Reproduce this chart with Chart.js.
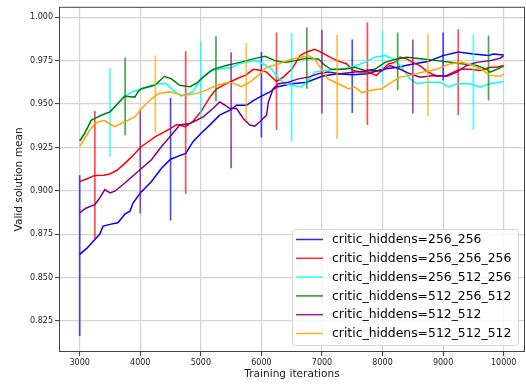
<!DOCTYPE html>
<html>
<head>
<meta charset="utf-8">
<script src="https://cdn.jsdelivr.net/npm/chart.js@4.4.1/dist/chart.umd.min.js"></script>
<style>
    body { margin: 0; background: #fff; }
    #wrap { width: 526px; height: 387px; }
</style>
</head>
<body>
<div id="wrap"><canvas id="chart" width="526" height="387"></canvas></div>
<script>
// tick labels
var xTicks = [3000, 4000, 5000, 6000, 7000, 8000, 9000, 10000];
var yTicks = [0.825, 0.850, 0.875, 0.900, 0.925, 0.950, 0.975, 1.000];

var seriesNames = ["critic_hiddens=256_256", "critic_hiddens=256_256_256", "critic_hiddens=256_512_256",
    "critic_hiddens=512_256_512", "critic_hiddens=512_512", "critic_hiddens=512_512_512"];
var seriesColors = ["0,0,255", "255,0,0", "0,255,255", "0,128,0", "128,0,128", "255,165,0"];

// mean curves
var blueX = [3000, 3120, 3250, 3330, 3385, 3500, 3630, 3750, 3830, 3880, 4000, 4185, 4350, 4500, 4650, 4750, 4870, 5000, 5150, 5310, 5480, 5590, 5755, 5865, 6000, 6140, 6250, 6500, 6750, 7000, 7250, 7500, 7750, 8000, 8250, 8500, 8750, 9000, 9250, 9500, 9750, 9830, 10000];
var blueY = [0.8634, 0.867, 0.872, 0.875, 0.8797, 0.8807, 0.8816, 0.8868, 0.8883, 0.893, 0.8988, 0.9054, 0.913, 0.9182, 0.9203, 0.9216, 0.9283, 0.933, 0.938, 0.9436, 0.9465, 0.9493, 0.9493, 0.952, 0.9546, 0.957, 0.9598, 0.9617, 0.9626, 0.966, 0.9674, 0.9668, 0.9674, 0.970, 0.9712, 0.9731, 0.9745, 0.9779, 0.980, 0.9788, 0.9779, 0.9788, 0.9783];

var redX = [3000, 3125, 3250, 3400, 3500, 3620, 3750, 3870, 4000, 4120, 4250, 4400, 4500, 4600, 4750, 4870, 5000, 5150, 5250, 5380, 5500, 5620, 5750, 5865, 6000, 6085, 6250, 6360, 6500, 6640, 6750, 6880, 7000, 7130, 7250, 7410, 7500, 7630, 7750, 7900, 7985, 8095, 8200, 8290, 8400, 8500, 8620, 8750, 8900, 9060, 9170, 9280, 9445, 9610, 9775, 9890, 10000];
var redY = [0.9054, 0.907, 0.9089, 0.909, 0.9097, 0.912, 0.916, 0.920, 0.925, 0.928, 0.9312, 0.934, 0.936, 0.9382, 0.937, 0.9401, 0.9455, 0.954, 0.9584, 0.961, 0.963, 0.965, 0.9668, 0.970, 0.9693, 0.9684, 0.963, 0.9655, 0.970, 0.9779, 0.980, 0.9815, 0.9796, 0.977, 0.975, 0.9731, 0.9695, 0.9684, 0.9684, 0.9665, 0.9693, 0.9731, 0.974, 0.977, 0.976, 0.974, 0.972, 0.9684, 0.966, 0.9665, 0.9684, 0.970, 0.970, 0.9693, 0.9712, 0.9712, 0.9722];

var cyanX = [3000, 3080, 3190, 3360, 3500, 3580, 3740, 3870, 4000, 4185, 4295, 4430, 4540, 4680, 4750, 4870, 5000, 5150, 5300, 5420, 5500, 5620, 5750, 5870, 5950, 6060, 6170, 6280, 6390, 6500, 6665, 6775, 6880, 7045, 7300, 7490, 7710, 7875, 8040, 8180, 8290, 8455, 8565, 8730, 8950, 9090, 9225, 9445, 9610, 9775, 10000];
var cyanY = [0.929, 0.933, 0.9407, 0.9436, 0.9455, 0.9484, 0.9545, 0.957, 0.9585, 0.9608, 0.9617, 0.9617, 0.958, 0.9545, 0.9555, 0.957, 0.9645, 0.969, 0.970, 0.9707, 0.9707, 0.973, 0.974, 0.975, 0.9745, 0.9725, 0.970, 0.965, 0.9617, 0.9608, 0.9598, 0.9636, 0.9684, 0.9693, 0.970, 0.9712, 0.974, 0.977, 0.9779, 0.976, 0.9722, 0.9645, 0.9617, 0.9626, 0.9626, 0.9598, 0.9617, 0.9617, 0.9598, 0.9617, 0.963];

var greenX = [3000, 3080, 3190, 3360, 3500, 3580, 3740, 3910, 3960, 4020, 4240, 4400, 4515, 4650, 4820, 4930, 5040, 5200, 5420, 5645, 5865, 6060, 6225, 6390, 6555, 6750, 6940, 7050, 7150, 7380, 7540, 7710, 7875, 8040, 8200, 8400, 8675, 8895, 9115, 9335, 9555, 9720, 9775, 9890, 10000];
var greenY = [0.9287, 0.933, 0.9407, 0.9436, 0.9455, 0.9484, 0.9545, 0.954, 0.957, 0.9588, 0.9608, 0.966, 0.9645, 0.9608, 0.960, 0.962, 0.9655, 0.970, 0.9722, 0.974, 0.976, 0.9775, 0.975, 0.974, 0.975, 0.9764, 0.976, 0.9722, 0.970, 0.970, 0.9712, 0.9693, 0.970, 0.974, 0.9756, 0.977, 0.976, 0.975, 0.974, 0.9731, 0.9722, 0.970, 0.9684, 0.970, 0.9718];

var purpleX = [3000, 3100, 3250, 3330, 3415, 3500, 3580, 3745, 3990, 4185, 4350, 4515, 4650, 4820, 5040, 5200, 5310, 5400, 5480, 5590, 5700, 5810, 5890, 5975, 6085, 6115, 6195, 6280, 6445, 6610, 6775, 6940, 7100, 7300, 7545, 7820, 7985, 8125, 8290, 8455, 8620, 8840, 9060, 9225, 9390, 9555, 9775, 9945, 10000];
var purpleY = [0.8873, 0.890, 0.892, 0.8959, 0.9007, 0.8988, 0.8998, 0.9045, 0.912, 0.9179, 0.9255, 0.9322, 0.9379, 0.9388, 0.9426, 0.9474, 0.9512, 0.9493, 0.9474, 0.9474, 0.9417, 0.9379, 0.9373, 0.9398, 0.9436, 0.9512, 0.9588, 0.9617, 0.9626, 0.9645, 0.9655, 0.9674, 0.9684, 0.9674, 0.9684, 0.9693, 0.969, 0.9722, 0.970, 0.9674, 0.9655, 0.9665, 0.966, 0.9684, 0.9722, 0.974, 0.975, 0.9764, 0.9779];

var orangeX = [3000, 3080, 3165, 3250, 3330, 3415, 3500, 3580, 3745, 3910, 4020, 4185, 4295, 4490, 4710, 4930, 5095, 5260, 5480, 5590, 5670, 5810, 5975, 6085, 6280, 6500, 6665, 6775, 6880, 6990, 7100, 7270, 7435, 7545, 7655, 7820, 7985, 8150, 8290, 8455, 8675, 8895, 9115, 9310, 9500, 9665, 9775, 9945, 10000];
var orangeY = [0.9255, 0.930, 0.935, 0.9388, 0.940, 0.9405, 0.9385, 0.937, 0.9398, 0.9426, 0.9474, 0.953, 0.956, 0.957, 0.955, 0.956, 0.958, 0.9608, 0.9626, 0.9613, 0.960, 0.9626, 0.9674, 0.9712, 0.973, 0.976, 0.977, 0.9779, 0.976, 0.970, 0.9645, 0.9617, 0.9588, 0.9598, 0.9566, 0.958, 0.9588, 0.9626, 0.9655, 0.9665, 0.9684, 0.970, 0.9731, 0.974, 0.9722, 0.9693, 0.9665, 0.966, 0.9674];

// error bars: position, low, high
var blueErrX = [3000, 4500, 6000, 7500, 9000];
var blueErrLo = [0.8164, 0.883, 0.9308, 0.9449, 0.9636];
var blueErrHi = [0.909, 0.9535, 0.980, 0.9872, 0.9912];
var redErrX = [3250, 4750, 6250, 7750, 9250];
var redErrLo = [0.8724, 0.8984, 0.935, 0.9379, 0.9436];
var redErrHi = [0.946, 0.9804, 0.9912, 0.997, 0.9931];
var cyanErrX = [3500, 5000, 6500, 8000, 9500];
var cyanErrLo = [0.9197, 0.9426, 0.9287, 0.9615, 0.935];
var cyanErrHi = [0.9707, 0.9863, 0.9907, 0.992, 0.9897];
var greenErrX = [3750, 5250, 6750, 8250, 9750];
var greenErrLo = [0.932, 0.9516, 0.9588, 0.958, 0.952];
var greenErrHi = [0.9768, 0.989, 0.9941, 0.9912, 0.9894];
var purpleErrX = [4000, 5500, 7000, 8500];
var purpleErrLo = [0.887, 0.913, 0.9445, 0.9445];
var purpleErrHi = [0.947, 0.9798, 0.9928, 0.9872];
var orangeErrX = [4250, 5750, 7250, 8750];
var orangeErrLo = [0.9335, 0.9403, 0.9298, 0.943];
var orangeErrHi = [0.978, 0.9853, 0.9897, 0.9903];

var allX = [blueX, redX, cyanX, greenX, purpleX, orangeX];
var allY = [blueY, redY, cyanY, greenY, purpleY, orangeY];
var allErrX = [blueErrX, redErrX, cyanErrX, greenErrX, purpleErrX, orangeErrX];
var allErrLo = [blueErrLo, redErrLo, cyanErrLo, greenErrLo, purpleErrLo, orangeErrLo];
var allErrHi = [blueErrHi, redErrHi, cyanErrHi, greenErrHi, purpleErrHi, orangeErrHi];

Chart.defaults.font.family = "'DejaVu Sans', sans-serif";
Chart.defaults.color = "#222";

var datasets = [];
for (let i = 0; i < seriesNames.length; i++) {
    datasets.push({
        label: seriesNames[i],
        data: allX[i].map((x, k) => ({ x: x, y: allY[i][k] })),
        borderColor: "rgb(" + seriesColors[i] + ")",
        borderWidth: 1.5,
        pointRadius: 0,
        tension: 0
    });
    for (let k = 0; k < allErrX[i].length; k++) {
        datasets.push({
            label: "_err",
            data: [{ x: allErrX[i][k], y: allErrLo[i][k] }, { x: allErrX[i][k], y: allErrHi[i][k] }],
            borderColor: "rgba(" + seriesColors[i] + ",0.7)",
            borderWidth: 1.7,
            pointRadius: 0
        });
    }
}
// matplotlib draws later series on top; chart.js draws the first dataset on top
datasets.reverse();

var framePlugin = {
    id: 'frame',
    afterDatasetsDraw: function (chart) {
        var a = chart.chartArea, ctx = chart.ctx;
        ctx.save();
        ctx.strokeStyle = "#444";
        ctx.lineWidth = 1;
        ctx.strokeRect(a.left + 0.5, a.top + 0.5, a.right - a.left - 1, a.bottom - a.top - 1);
        ctx.restore();
    }
};

var legendPlugin = {
    id: 'boxLegend',
    afterDraw: function (chart) {
        var a = chart.chartArea, ctx = chart.ctx;
        var w = 226, h = 116;
        var x0 = a.right - 7 - w, y0 = a.bottom - 7 - h;
        ctx.save();
        ctx.beginPath();
        ctx.roundRect(x0 + 0.5, y0 + 0.5, w, h, 3);
        ctx.fillStyle = "rgba(255,255,255,0.8)";
        ctx.fill();
        ctx.strokeStyle = "#d6d6d6";
        ctx.lineWidth = 1;
        ctx.stroke();
        ctx.font = "12.4px 'DejaVu Sans'";
        ctx.textBaseline = "middle";
        for (let i = 0; i < seriesNames.length; i++) {
            var y = y0 + 10.5 + i * 18.8;
            ctx.strokeStyle = "rgba(" + seriesColors[i] + ",0.85)";
            ctx.lineWidth = 1.5;
            ctx.beginPath();
            ctx.moveTo(x0 + 4, y);
            ctx.lineTo(x0 + 31, y);
            ctx.stroke();
            ctx.fillStyle = "#000";
            ctx.fillText(seriesNames[i], x0 + 40, y + 0.5);
        }
        ctx.restore();
    }
};

new Chart(document.getElementById("chart"), {
    type: 'line',
    data: { datasets: datasets },
    plugins: [framePlugin, legendPlugin],
    options: {
        responsive: false,
        animation: false,
        devicePixelRatio: 1,
        layout: { padding: { top: 4, right: 1, left: 0, bottom: 0 } },
        plugins: { legend: { display: false }, tooltip: { enabled: false } },
        scales: {
            x: {
                type: 'linear',
                min: 2658,
                max: 10352,
                afterBuildTicks: function (s) { s.ticks = xTicks.map(v => ({ value: v })); },
                afterFit: function (s) { s.height = 35; },
                ticks: { font: { size: 8 }, padding: 2, maxRotation: 0, callback: v => String(v) },
                grid: { color: "#d4d4d4", lineWidth: 1.2, tickColor: "#333", tickLength: 4, tickWidth: 1 },
                border: { display: false },
                title: { display: true, text: "Training iterations", font: { size: 10.6 }, padding: { top: 0, bottom: 6 } }
            },
            y: {
                min: 0.8072,
                max: 1.006,
                afterBuildTicks: function (s) { s.ticks = yTicks.map(v => ({ value: v })); },
                afterFit: function (s) { s.width = 59; },
                ticks: { font: { size: 8 }, padding: 2, callback: v => v.toFixed(3) },
                grid: { color: "#d4d4d4", lineWidth: 1.2, tickColor: "#333", tickLength: 4, tickWidth: 1 },
                border: { display: false },
                title: { display: true, text: "Valid solution mean", font: { size: 10.6 }, padding: { top: 13, bottom: 0 } }
            }
        }
    }
});
</script>
</body>
</html>
